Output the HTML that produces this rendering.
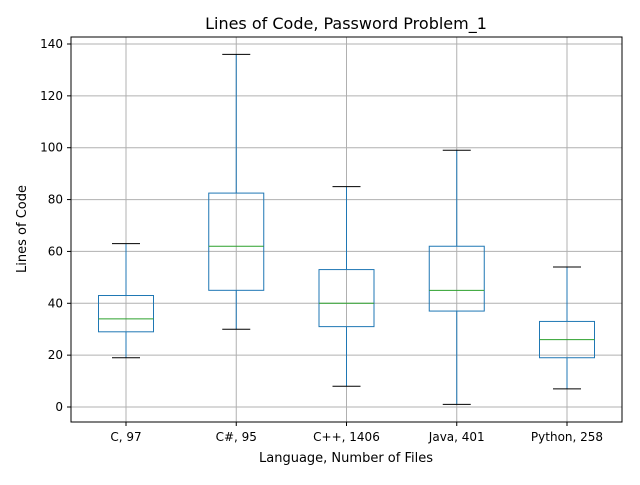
<!DOCTYPE html>
<html><head><meta charset="utf-8"><style>
body{margin:0;background:#fff;font-family:"Liberation Sans","DejaVu Sans",sans-serif;}
</style></head><body>
<svg id="chart" width="640" height="480" xmlns="http://www.w3.org/2000/svg" font-family="DejaVu Sans, Liberation Sans, sans-serif">
<rect width="640" height="480" fill="#fff"/>
<text x="346" y="29" text-anchor="middle" font-size="16">Lines of Code, Password Problem_1</text>
<g id="grid"></g>
<g id="boxes"></g>
<rect x="71" y="37" width="551" height="385" fill="none" stroke="#000" stroke-width="1"/>
<g id="axes" font-size="12"></g>
<text x="346" y="462" text-anchor="middle" font-size="13">Language, Number of Files</text>
<text transform="translate(26,229) rotate(-90)" text-anchor="middle" font-size="13">Lines of Code</text>
</svg>
<script>
const categories=["C, 97","C#, 95","C++, 1406","Java, 401","Python, 258"];
const whiskerLow=[19,30,8,1,7];
const q1=[29,45,31,37,19];
const median=[34,62,40,45,26];
const q3=[43,82.5,53,62,33];
const whiskerHigh=[63,136,85,99,54];
const yTicks=[0,20,40,60,80,100,120,140];
const NS="http://www.w3.org/2000/svg";
function y(v){return 407-v*(363/140);}
function x(i){return 126+i*110.25;}
function mk(tag,attrs,parent){const e=document.createElementNS(NS,tag);for(const k in attrs)e.setAttribute(k,attrs[k]);parent.appendChild(e);return e;}
const grid=document.getElementById('grid'),axes=document.getElementById('axes'),boxes=document.getElementById('boxes');
yTicks.forEach(t=>{
  const g=mk('line',{x1:71,x2:622,y1:y(t),y2:y(t),stroke:'#b0b0b0','stroke-width':1},grid);
  
  
  mk('line',{x1:67,x2:71,y1:y(t),y2:y(t),stroke:'#000'},axes);
  const tx=mk('text',{x:63,y:y(t)+4,'text-anchor':'end'},axes);tx.textContent=t;
  
  
});
categories.forEach((c,i)=>{
  const cx=x(i);
  const g=mk('line',{x1:cx,x2:cx,y1:37,y2:422,stroke:'#b0b0b0','stroke-width':1},grid);
  
  
  mk('line',{x1:cx,x2:cx,y1:422,y2:426,stroke:'#000'},axes);
  const tx=mk('text',{x:cx,y:441,'text-anchor':'middle'},axes);tx.textContent=c;
  
  
  const grp=mk('g',{},boxes);
  
  
  const bl='#1f77b4';
  mk('line',{x1:cx,x2:cx,y1:y(whiskerLow[i]),y2:y(q1[i]),stroke:bl},grp);
  mk('line',{x1:cx,x2:cx,y1:y(q3[i]),y2:y(whiskerHigh[i]),stroke:bl},grp);
  mk('line',{x1:cx-14,x2:cx+14,y1:y(whiskerLow[i]),y2:y(whiskerLow[i]),stroke:'#000'},grp);
  mk('line',{x1:cx-14,x2:cx+14,y1:y(whiskerHigh[i]),y2:y(whiskerHigh[i]),stroke:'#000'},grp);
  mk('rect',{x:cx-27.5,y:y(q3[i]),width:55,height:y(q1[i])-y(q3[i]),fill:'none',stroke:bl},grp);
  mk('line',{x1:cx-27.5,x2:cx+27.5,y1:y(median[i]),y2:y(median[i]),stroke:'#2ca02c'},grp);
});
</script>
</body></html>
